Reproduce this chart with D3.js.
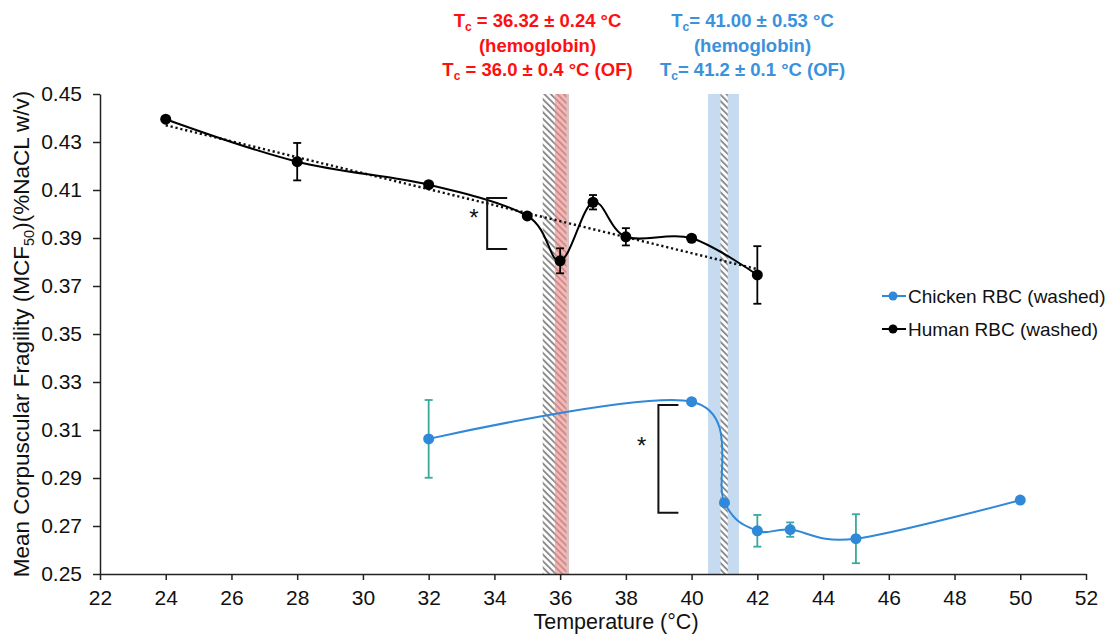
<!DOCTYPE html>
<html>
<head>
<meta charset="utf-8">
<script src="https://cdn.jsdelivr.net/npm/d3@7"></script>
<style>
body { margin: 0; background: #fff; }
svg text { font-family: "Liberation Sans", Arial, sans-serif; fill: #111; }
</style>
</head>
<body>
<div class="root"></div>
<script>
// values
var xTicks = [22, 24, 26, 28, 30, 32, 34, 36, 38, 40, 42, 44, 46, 48, 50, 52];
var yTicks = [0.25, 0.27, 0.29, 0.31, 0.33, 0.35, 0.37, 0.39, 0.41, 0.43, 0.45];

var humanTemp = [24, 28, 32, 35, 36, 37, 38, 40, 42];
var humanMcf = [0.4395, 0.4218, 0.4122, 0.3992, 0.3805, 0.4049, 0.3905, 0.3899, 0.3746];
var humanErr = [0, 0.0078, 0, 0, 0.0052, 0.003, 0.0036, 0, 0.012];

var chickenTemp = [32, 40, 41, 42, 43, 45, 50];
var chickenMcf = [0.3063, 0.3218, 0.2797, 0.268, 0.2685, 0.2647, 0.2808];
var chickenErr = [0.0162, 0, 0, 0.0066, 0.003, 0.0102, 0];

// transition bands (temperature ranges)
var bandLo = [40.5, 35.47, 35.84, 40.88];
var bandHi = [41.44, 35.84, 36.24, 41.1];
var bandKind = ["blue", "grayhatch", "redhatch", "grayhatch"];

var redNotes = [["T", "c", " = 36.32 ± 0.24 °C"], ["", "", "(hemoglobin)"], ["T", "c", " = 36.0 ± 0.4 °C (OF)"]];
var blueNotes = [["T", "c", "= 41.00 ± 0.53 °C"], ["", "", "(hemoglobin)"], ["T", "c", "= 41.2 ± 0.1 °C (OF)"]];

var width = 1113, height = 635;
var blue = "#2f88d8", teal = "#3aa89c";

var svg = d3.select(".root").append("svg")
  .attr("width", width)
  .attr("height", height);

var x = d3.scaleLinear().domain([22, 52]).range([100, 1086]);
var y = d3.scaleLinear().domain([0.25, 0.45]).range([574, 94]);

// hatch patterns
var defs = svg.append("defs");
function hatch(id, bg, fg) {
  var p = defs.append("pattern")
    .attr("id", id)
    .attr("patternUnits", "userSpaceOnUse")
    .attr("width", 4.6).attr("height", 4.6)
    .attr("patternTransform", "rotate(-45)");
  p.append("rect").attr("width", 4.6).attr("height", 4.6).attr("fill", bg);
  p.append("rect").attr("width", 1.9).attr("height", 4.6).attr("fill", fg);
}
hatch("grayhatch", "#ffffff", "#8c8c8c");
hatch("redhatch", "#f7b7b5", "#c98e8c");

var bandFill = { blue: "#c6dbf0", grayhatch: "url(#grayhatch)", redhatch: "url(#redhatch)" };

svg.append("g").attr("class", "bands")
  .selectAll("rect")
  .data(d3.range(bandLo.length))
  .enter().append("rect")
  .attr("x", function (i) { return x(bandLo[i]); })
  .attr("width", function (i) { return x(bandHi[i]) - x(bandLo[i]); })
  .attr("y", y(0.45))
  .attr("height", y(0.25) - y(0.45))
  .attr("fill", function (i) { return bandFill[bandKind[i]]; });

// thin edge at the right of the red band
svg.append("rect")
  .attr("x", x(36.24) - 1.5).attr("width", 2.5)
  .attr("y", y(0.45)).attr("height", y(0.25) - y(0.45))
  .attr("fill", "#d8c4c4");

// axes
var xAxis = svg.append("g")
  .attr("transform", "translate(0," + y(0.25) + ")")
  .call(d3.axisBottom(x).tickValues(xTicks).tickFormat(d3.format("d")).tickSize(6).tickSizeOuter(0).tickPadding(10));
var yAxis = svg.append("g")
  .attr("transform", "translate(" + x(22) + ",0)")
  .call(d3.axisLeft(y).tickValues(yTicks).tickFormat(d3.format(".2f")).tickSize(7).tickSizeOuter(0).tickPadding(11));
svg.selectAll(".domain, .tick line").attr("stroke", "#222").attr("stroke-width", 1.5);
xAxis.selectAll("text").attr("font-size", 21).attr("fill", "#111");
yAxis.selectAll("text").attr("font-size", 21).attr("fill", "#111");

svg.append("text")
  .attr("x", 616).attr("y", 629)
  .attr("text-anchor", "middle")
  .attr("font-size", 21.5)
  .text("Temperature (°C)");

var yl = svg.append("text")
  .attr("transform", "translate(29,334) rotate(-90)")
  .attr("text-anchor", "middle")
  .attr("font-size", 22.5);
yl.append("tspan").text("Mean Corpuscular Fragility (MCF");
yl.append("tspan").attr("font-size", 14.5).attr("dy", 5).text("50");
yl.append("tspan").attr("dy", -5).text(")(%NaCL w/v)");

// trend line for the human data (least squares)
var mx = d3.mean(humanTemp), my = d3.mean(humanMcf);
var sxy = d3.sum(humanTemp, function (t, i) { return (t - mx) * (humanMcf[i] - my); });
var sxx = d3.sum(humanTemp, function (t) { return (t - mx) * (t - mx); });
var slope = sxy / sxx;
svg.append("line")
  .attr("x1", x(24)).attr("y1", y(my + slope * (24 - mx)))
  .attr("x2", x(42)).attr("y2", y(my + slope * (42 - mx)))
  .attr("stroke", "#111")
  .attr("stroke-width", 2.4)
  .attr("stroke-dasharray", "2.2,2.8");

var line = d3.line()
  .x(function (d) { return x(d[0]); })
  .y(function (d) { return y(d[1]); })
  .curve(d3.curveCatmullRom.alpha(0));

function series(temp, mcf, err, color, errColor) {
  var pts = temp.map(function (t, i) { return [t, mcf[i], err[i]]; });
  var g = svg.append("g");
  g.append("path")
    .datum(pts)
    .attr("d", line)
    .attr("fill", "none")
    .attr("stroke", color)
    .attr("stroke-width", 2);
  var eb = g.selectAll(".err")
    .data(pts.filter(function (d) { return d[2] > 0; }))
    .enter().append("g")
    .attr("stroke", errColor)
    .attr("stroke-width", 1.8);
  eb.append("line")
    .attr("x1", function (d) { return x(d[0]); })
    .attr("x2", function (d) { return x(d[0]); })
    .attr("y1", function (d) { return y(d[1] - d[2]); })
    .attr("y2", function (d) { return y(d[1] + d[2]); });
  [-1, 1].forEach(function (s) {
    eb.append("line")
      .attr("x1", function (d) { return x(d[0]) - 4; })
      .attr("x2", function (d) { return x(d[0]) + 4; })
      .attr("y1", function (d) { return y(d[1] + s * d[2]); })
      .attr("y2", function (d) { return y(d[1] + s * d[2]); });
  });
  g.selectAll("circle")
    .data(pts)
    .enter().append("circle")
    .attr("cx", function (d) { return x(d[0]); })
    .attr("cy", function (d) { return y(d[1]); })
    .attr("r", 5.5)
    .attr("fill", color);
}
series(chickenTemp, chickenMcf, chickenErr, blue, teal);
series(humanTemp, humanMcf, humanErr, "#000", "#000");

// significance brackets
function bracket(t, v0, v1, sx, sv) {
  var bx = x(t);
  svg.append("path")
    .attr("d", "M" + (bx + 20) + "," + y(v1) + "H" + bx + "V" + y(v0) + "H" + (bx + 20))
    .attr("fill", "none")
    .attr("stroke", "#111")
    .attr("stroke-width", 2);
  svg.append("text")
    .attr("x", x(sx)).attr("y", y(sv))
    .attr("text-anchor", "middle")
    .attr("dominant-baseline", "central")
    .attr("font-size", 24)
    .text("*");
}
bracket(33.78, 0.3854, 0.4067, 33.38, 0.3985);
bracket(38.99, 0.2755, 0.3204, 38.48, 0.3035);

// legend
var legend = svg.append("g");
[[blue, "Chicken RBC (washed)", 296], ["#000", "Human RBC (washed)", 329]].forEach(function (l) {
  legend.append("line")
    .attr("x1", 882).attr("x2", 906).attr("y1", l[2]).attr("y2", l[2])
    .attr("stroke", l[0]).attr("stroke-width", 2);
  legend.append("circle").attr("cx", 893).attr("cy", l[2]).attr("r", 4.5).attr("fill", l[0]);
  legend.append("text")
    .attr("x", 908).attr("y", l[2])
    .attr("dominant-baseline", "central")
    .attr("font-size", 19)
    .text(l[1]);
});

// Tc annotations
function notes(lines, cx, color) {
  lines.forEach(function (l, i) {
    var t = svg.append("text")
      .attr("x", cx).attr("y", 27 + i * 24.5)
      .attr("text-anchor", "middle")
      .attr("font-size", 18.5)
      .attr("font-weight", "bold")
      .style("fill", color);
    if (l[0]) {
      t.append("tspan").style("fill", color).text(l[0]);
      t.append("tspan").style("fill", color).attr("font-size", 12).attr("dy", 4).text(l[1]);
      t.append("tspan").style("fill", color).attr("dy", -4).text(l[2]);
    } else {
      t.append("tspan").style("fill", color).text(l[2]);
    }
  });
}
notes(redNotes, 537.5, "#ff1010");
notes(blueNotes, 752.5, "#3a91dc");
</script>
</body>
</html>
